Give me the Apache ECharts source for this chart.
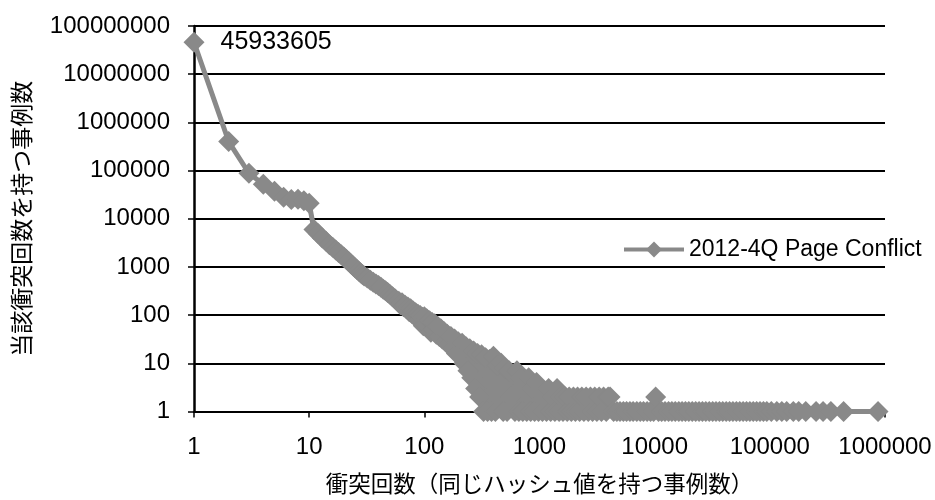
<!DOCTYPE html>
<html>
<head>
<meta charset="utf-8">
<script src="https://cdn.jsdelivr.net/npm/echarts@6/dist/echarts.min.js"></script>
<style>
html, body { margin: 0; padding: 0; background: #fff; }
#chart { width: 935px; height: 500px; }
</style>
</head>
<body>
<div id="chart"></div>
<script>
const seriesName = '2012-4Q Page Conflict';
const xAxisTitle = '衝突回数（同じハッシュ値を持つ事例数）';
const yAxisTitle = '当該衝突回数を持つ事例数';

// collision count (x) and number of cases with that count (y)
const collisions = [
  1, 2, 3, 4, 5, 6, 7, 8, 9, 10,
  11, 12, 13, 14, 15, 16, 17, 18, 19, 20,
  21, 22, 23, 24, 25, 26, 27, 28, 29, 30,
  32, 34, 36, 38, 40, 42, 44, 46, 48, 50, 53, 56,
  60, 62, 64, 66, 68, 70, 72, 74, 76, 78, 80, 82, 84, 86, 88, 90, 92, 94, 96, 98, 100,
  102, 105, 108, 111, 114, 117, 120, 123, 127, 131, 135, 139, 143, 148, 153, 158, 164, 170, 176, 183, 190, 197,
  205, 213, 221, 230, 239, 248, 258, 268, 279, 290, 302, 314, 327, 340, 354, 368, 383, 398,
  414, 430, 447, 465, 484, 503, 523, 544, 566, 589, 612, 637, 662, 689, 716, 745, 775, 806, 838, 872, 907, 943, 980,
  1020, 1060, 1100, 1150, 1200, 1250, 1300, 1360, 1420, 1480, 1540, 1600, 1670, 1740, 1810, 1890, 1970,
  2050, 2140, 2230, 2330, 2430, 2540, 2650, 2770, 2890, 3020, 3150, 3300, 3450, 3600, 3800, 3950, 4100,
  4400, 4700, 5000, 5350, 5700, 6100, 6500, 7000, 7500, 8000, 8600, 9200, 9800, 10200, 10800,
  11500, 12300, 13200, 14100, 15100, 16200, 17300, 18500, 19800, 21200, 22700, 24300, 26000, 27800, 29800,
  31900, 34100, 36500, 39000, 41800, 44700, 47800, 51200, 54800, 58600, 62700, 67100, 71800, 76800, 82200, 88000, 94100,
  103000, 115000, 127000, 140000, 160000, 178000, 205000, 252000, 290000, 339000, 437000, 870000
];
const cases = [
  45933605, 400000, 88000, 52000, 37000, 28000, 25000, 25500, 23500, 21000,
  6000, 4900, 4000, 3400, 2900, 2550, 2250, 2000, 1800, 1600,
  1450, 1300, 1170, 1060, 960, 880, 810, 750, 700, 650,
  590, 530, 480, 440, 410, 380, 345, 320, 295, 270, 240, 215,
  195, 165, 180, 150, 160, 135, 148, 118, 135, 108, 122, 98, 112, 88, 104, 78, 98, 72, 90, 60, 92,
  64, 84, 56, 76, 44, 70, 50, 66, 40, 58, 36, 52, 32, 46, 28, 40, 24, 36, 20, 32, 16, 28,
  14, 26, 10, 22, 7, 20, 5, 18, 3, 16, 2, 15, 1, 13, 1, 12, 1, 14,
  1, 9, 2, 10, 1, 8, 1, 7, 2, 6, 1, 7, 1, 5, 1, 4, 1, 5, 1, 3, 1, 4, 1,
  3, 1, 2, 1, 3, 1, 2, 1, 3, 1, 2, 1, 2, 1, 2, 1, 2,
  1, 2, 1, 2, 1, 2, 1, 2, 1, 2, 1, 2, 1, 2, 1, 2, 2,
  1, 1, 1, 1, 1, 1, 1, 1, 1, 1, 1, 1, 1, 2, 1,
  1, 1, 1, 1, 1, 1, 1, 1, 1, 1, 1, 1, 1, 1, 1,
  1, 1, 1, 1, 1, 1, 1, 1, 1, 1, 1, 1, 1, 1, 1, 1, 1,
  1, 1, 1, 1, 1, 1, 1, 1, 1, 1, 1, 1
];

const lineColor = '#898989';
const labelFont = 'Liberation Sans';
const cjkFont = 'Noto Sans CJK JP';

const chart = echarts.init(document.getElementById('chart'));

const points = collisions.map((c, i) => {
  if (i === 0) {
    return {
      value: [c, cases[i]],
      label: {
        show: true,
        position: 'right',
        distance: 16,
        formatter: p => String(p.value[1]),
        color: '#000',
        fontSize: 25,
        fontFamily: labelFont
      }
    };
  }
  return [c, cases[i]];
});

const option = {
  animation: false,
  backgroundColor: '#fff',
  grid: { left: 194, right: 50, top: 26, bottom: 88, containLabel: false },
  legend: {
    data: [seriesName],
    left: 617,
    top: 233,
    itemWidth: 60,
    itemHeight: 20,
    itemGap: 5,
    lineStyle: { width: 4 },
    textStyle: { color: '#000', fontSize: 23, fontFamily: labelFont }
  },
  xAxis: {
    type: 'log',
    logBase: 10,
    min: 1,
    max: 1000000,
    splitNumber: 6,
    name: xAxisTitle,
    nameLocation: 'middle',
    nameGap: 61,
    nameTextStyle: { color: '#000', fontSize: 22.5, fontFamily: cjkFont },
    axisLine: { lineStyle: { color: '#000', width: 2 } },
    axisTick: { show: true, length: 6, lineStyle: { color: '#000', width: 1.5 } },
    axisLabel: {
      color: '#000', fontSize: 24, fontFamily: labelFont, margin: 24,
      formatter: v => String(Math.round(v))
    },
    splitLine: { show: false },
    minorTick: { show: false }
  },
  yAxis: {
    type: 'log',
    logBase: 10,
    min: 1,
    max: 100000000,
    splitNumber: 8,
    name: yAxisTitle,
    nameLocation: 'middle',
    nameRotate: 90,
    nameGap: 161,
    nameTextStyle: { color: '#000', fontSize: 23, fontFamily: cjkFont },
    axisLine: { show: true, lineStyle: { color: '#000', width: 2.5 } },
    axisTick: { show: true, length: 6, lineStyle: { color: '#000', width: 1.5 } },
    axisLabel: {
      color: '#000', fontSize: 24, fontFamily: labelFont, margin: 24,
      formatter: v => String(Math.round(v))
    },
    splitLine: { show: true, lineStyle: { color: '#000', width: 2 } }
  },
  series: [{
    name: seriesName,
    type: 'line',
    data: points,
    symbol: 'diamond',
    symbolSize: 21,
    clip: false,
    lineStyle: { color: lineColor, width: 5 },
    itemStyle: { color: lineColor }
  }]
};

chart.setOption(option);
</script>
</body>
</html>
